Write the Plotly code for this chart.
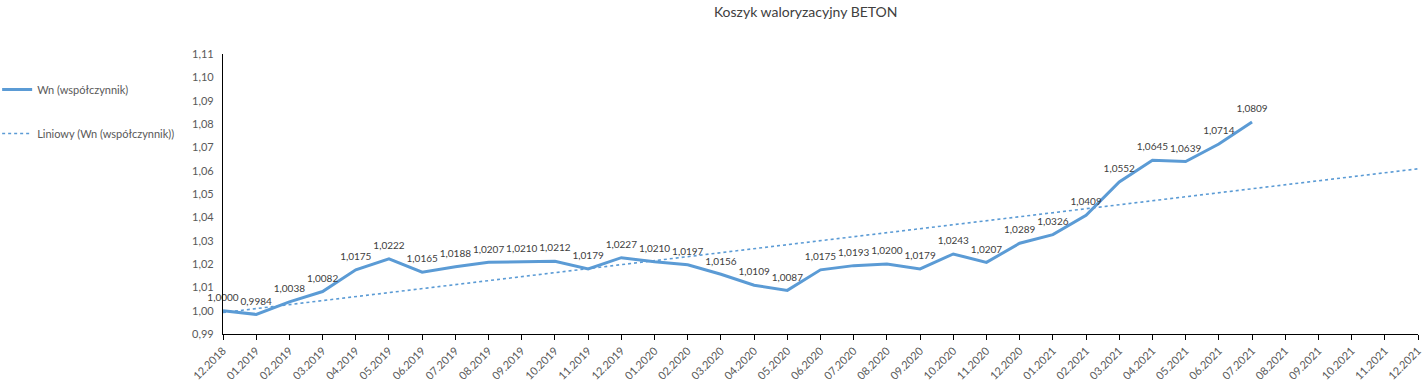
import numpy as np
import plotly.graph_objects as go

categories = ["12.2018",
              "01.2019", "02.2019", "03.2019", "04.2019", "05.2019", "06.2019",
              "07.2019", "08.2019", "09.2019", "10.2019", "11.2019", "12.2019",
              "01.2020", "02.2020", "03.2020", "04.2020", "05.2020", "06.2020",
              "07.2020", "08.2020", "09.2020", "10.2020", "11.2020", "12.2020",
              "01.2021", "02.2021", "03.2021", "04.2021", "05.2021", "06.2021",
              "07.2021", "08.2021", "09.2021", "10.2021", "11.2021", "12.2021"]

wn_values = [1.0000, 0.9984, 1.0038, 1.0082, 1.0175, 1.0222, 1.0165, 1.0188,
             1.0207, 1.0210, 1.0212, 1.0179, 1.0227, 1.0210, 1.0197, 1.0156,
             1.0109, 1.0087, 1.0175, 1.0193, 1.0200, 1.0179, 1.0243, 1.0207,
             1.0289, 1.0326, 1.0409, 1.0552, 1.0645, 1.0639, 1.0714, 1.0809]

y_ticks = [0.99, 1.00, 1.01, 1.02, 1.03, 1.04, 1.05, 1.06, 1.07, 1.08, 1.09, 1.10, 1.11]

# linear trendline (Excel "Liniowy") fitted to the series, extended to all categories
xi = np.arange(len(wn_values))
coef = np.polyfit(xi, wn_values, 1)
trend = np.polyval(coef, np.arange(len(categories)))

BLUE = "#5B9BD5"
FONT = "Lato"

fig = go.Figure()
fig.add_trace(go.Scatter(
    x=categories[:len(wn_values)], y=wn_values, mode="lines+markers+text",
    name="Wn (współczynnik)", legendgroup="a",
    line=dict(color=BLUE, width=3),
    marker=dict(size=10, color="rgba(0,0,0,0)"),
    text=[f"{v:.4f}".replace(".", ",") for v in wn_values],
    textposition="top center",
    textfont=dict(family=FONT, size=10, color="#404040"),
    cliponaxis=False,
))
fig.add_trace(go.Scatter(
    x=categories, y=trend, mode="lines",
    name="Liniowy (Wn (współczynnik))", legendgroup="b",
    line=dict(color=BLUE, width=1.6, dash="dot"),
))

fig.update_layout(
    width=1426, height=389,
    margin=dict(l=223, r=8, t=54, b=55, autoexpand=False),
    paper_bgcolor="white", plot_bgcolor="white",
    separators=", ",
    font=dict(family=FONT, size=11, color="#595959"),
    title=dict(text="Koszyk waloryzacyjny BETON", x=0.565, xanchor="center",
               y=0.969, yanchor="middle",
               font=dict(family=FONT, size=14, color="#404040")),
    showlegend=True,
    legend=dict(x=-0.189, xanchor="left", y=0.925, yanchor="top",
                tracegroupgap=25, font=dict(family=FONT, size=11, color="#595959"),
                bgcolor="rgba(0,0,0,0)"),
    xaxis=dict(type="category", categoryorder="array", categoryarray=categories,
               range=[0, len(categories) - 1], tickangle=-45,
               showgrid=False, zeroline=False,
               showline=True, linecolor="black", linewidth=1.2,
               ticks="outside", ticklen=5, tickcolor="black",
               automargin=False,
               tickfont=dict(family=FONT, size=11, color="#595959")),
    yaxis=dict(range=[0.99, 1.11], tickvals=y_ticks,
               tickformat=".2f", showgrid=False, zeroline=False,
               showline=True, linecolor="black", linewidth=1.2,
               ticks="", ticklabelstandoff=6, automargin=False,
               tickfont=dict(family=FONT, size=11, color="#595959")),
)

fig.write_html("out.html", config={"displayModeBar": False},
               post_script="document.body.style.margin='0';")
